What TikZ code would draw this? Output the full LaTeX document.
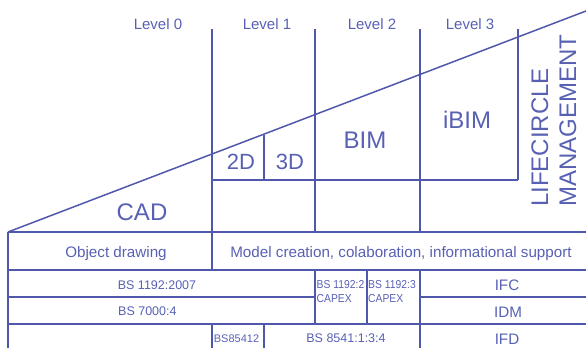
\documentclass[tikz,border=0pt]{standalone}
\usepackage{fontspec}
\setmainfont{Liberation Sans}
\definecolor{bimblue}{RGB}{80,88,172}
\definecolor{bimtext}{RGB}{88,96,180}
\tikzset{
  grid line/.style={draw=bimblue, line width=1.5pt},
  lbl/.style={text=bimtext, inner sep=0pt, anchor=base},
  lvl/.style={lbl, font=\fontsize{15}{15}\selectfont},
  big/.style={lbl, font=\fontsize{24}{24}\selectfont},
  mid/.style={lbl, font=\fontsize{22}{22}\selectfont},
  row/.style={lbl, font=\fontsize{15.2}{15.2}\selectfont},
  std/.style={lbl, font=\fontsize{12.5}{12.5}\selectfont},
  tiny/.style={lbl, anchor=base west, font=\fontsize{11.5}{13}\selectfont},
}
\begin{document}
\begin{tikzpicture}[x=1pt, y=-1pt]
\useasboundingbox (0,0) rectangle (586,348);
% diagonal
\draw[grid line] (8,232) -- (586,11);
% verticals
\draw[grid line] (212,29) -- (212,270);
\draw[grid line] (212,324) -- (212,348);
\draw[grid line] (264,135) -- (264,180);
\draw[grid line] (264,324) -- (264,348);
\draw[grid line] (315,29) -- (315,232);
\draw[grid line] (315,270) -- (315,324);
\draw[grid line] (367,270) -- (367,324);
\draw[grid line] (420,29) -- (420,232);
\draw[grid line] (420,270) -- (420,348);
\draw[grid line] (518,29) -- (518,180);
\draw[grid line] (8,232) -- (8,348);
% horizontals
\draw[grid line] (212,180) -- (518,180);
\draw[grid line] (8,232) -- (586,232);
\draw[grid line] (8,270) -- (586,270);
\draw[grid line] (8,297) -- (315,297);
\draw[grid line] (420,297) -- (586,297);
\draw[grid line] (8,324) -- (586,324);
% level labels
\node[lvl] (l0) at (158,29) {Level 0};
\node[lvl] (l1) at (267,29) {Level 1};
\node[lvl] (l2) at (372,29) {Level 2};
\node[lvl] (l3) at (470,29) {Level 3};
% main labels
\node[mid] (d2) at (241,169) {2D};
\node[mid] (d3) at (290,169) {3D};
\node[big] (bim) at (365,148) {BIM};
\node[big] (ibim) at (467,128) {iBIM};
\node[big] (cad) at (142,220) {CAD};
\node[lbl, font=\fontsize{24}{24}\selectfont, rotate=90, anchor=base west] (life) at (548,207) {LIFECIRCLE};
\node[lbl, font=\fontsize{24}{24}\selectfont, rotate=90, anchor=base west] (mgmt) at (576,207) {MANAGEMENT};
% table texts
\node[row] (obj) at (116,257) {Object drawing};
\node[row] (model) at (401,257) {Model creation, colaboration, informational support};
\node[std] (bs1192) at (157,289) {BS 1192:2007};
\node[lbl, anchor=base west, font=\fontsize{12.5}{12.5}\selectfont] (bs7000) at (118,315) {BS 7000:4};
\node[row] (ifc) at (507,290) {IFC};
\node[row] (idm) at (508,317) {IDM};
\node[row] (ifd) at (507,344) {IFD};
\node[std] (bs8541) at (346,342) {BS 8541:1:3:4};
\node[lbl, font=\fontsize{11}{11}\selectfont] (bs85412) at (236.5,342) {BS85412};
\node[tiny] (capa) at (316.5,288) {\scalebox{0.9}[1]{BS 1192:2}};
\node[tiny] (capa2) at (316.5,302) {\scalebox{0.9}[1]{CAPEX}};
\node[tiny] (capb) at (368,288) {\scalebox{0.9}[1]{BS 1192:3}};
\node[tiny] (capb2) at (368,302) {\scalebox{0.9}[1]{CAPEX}};
\end{tikzpicture}
\end{document}
